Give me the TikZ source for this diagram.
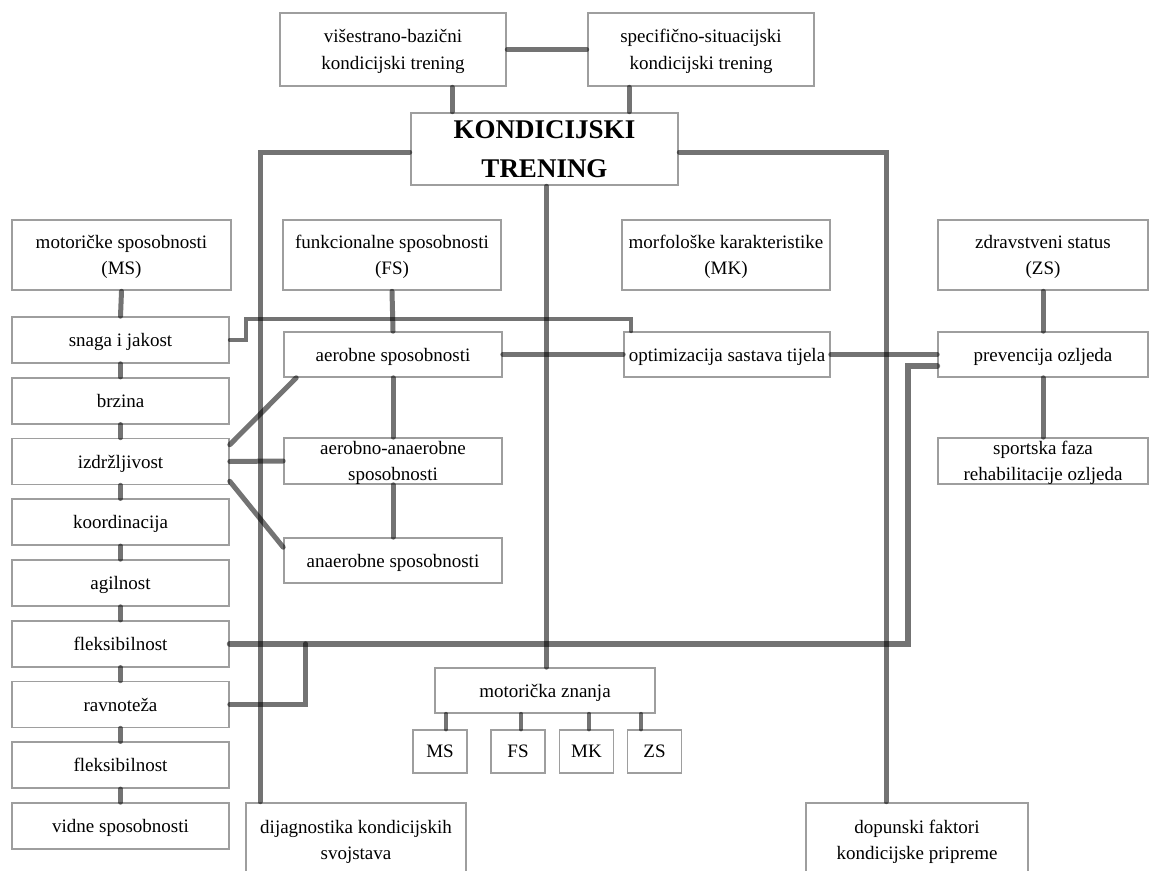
\documentclass[tikz,border=0pt]{standalone}
\usepackage{fontspec}
\setmainfont{Liberation Serif}
\usetikzlibrary{positioning,calc}
\definecolor{edge}{HTML}{9E9E9E}

\begin{document}
\begin{tikzpicture}[x=1pt,y=-1pt,font=\fontsize{19}{26.5}\selectfont,
  b/.style={draw=edge,line width=1.6pt,align=center,inner sep=0pt,text depth=0pt,minimum height=46pt,minimum width=217pt},
  bb/.style={b,line width=2.6pt,minimum height=70pt},
  sm/.style={b,line width=1.2pt,minimum width=54pt,minimum height=43pt},
  l/.style={draw=black,draw opacity=.55,line width=5pt,line cap=round},
  node distance=13.15pt]
  \clip (0,0) rectangle (1151,870);
  \fill[white] (0,0) rectangle (1151,870);
  % top
  \node[bb,minimum width=226pt,minimum height=73pt] (vis) at (393,49.5) {višestrano-bazični\\kondicijski trening};
  \node[bb,minimum width=226pt,minimum height=73pt] (spec) at (701,49.5) {specifično-situacijski\\kondicijski trening};
  \node[bb,minimum width=267pt,minimum height=72pt,font=\fontsize{27}{39}\selectfont\bfseries] (kt) at (544.5,149) {KONDICIJSKI\\TRENING};
  \node[bb,minimum width=219pt] (ms) at (121.5,255) {motoričke sposobnosti\\(MS)};
  \node[bb,minimum width=218pt] (fs) at (392,255) {funkcionalne sposobnosti\\(FS)};
  \node[bb,minimum width=208pt] (mk) at (726,255) {morfološke karakteristike\\(MK)};
  \node[bb,minimum width=210pt] (zs) at (1043,255) {zdravstveni status\\(ZS)};
  % left column
  \node[b] (snaga) at (120.5,340) {snaga i jakost};
  \node[b,below=of snaga] (brz) {brzina};
  \node[b,below=of brz] (izd) {izdržljivost};
  \node[b,below=of izd] (koo) {koordinacija};
  \node[b,below=of koo] (agi) {agilnost};
  \node[b,below=of agi] (flex) {fleksibilnost};
  \node[b,below=of flex] (rav) {ravnoteža};
  \node[b,below=of rav] (flex2) {fleksibilnost};
  \node[b,below=of flex2] (vid) {vidne sposobnosti};
  % middle and right
  \node[b,minimum width=218pt,minimum height=45pt] (aer) at (393,354.5) {aerobne sposobnosti};
  \node[b,minimum width=218pt] (aa) at (393,461) {aerobno-anaerobne\\sposobnosti};
  \node[b,minimum width=218pt,minimum height=45pt] (an) at (393,560.5) {anaerobne sposobnosti};
  \node[b,minimum width=206pt,minimum height=45pt] (opt) at (727,354.5) {optimizacija sastava tijela};
  \node[b,minimum width=210pt,minimum height=45pt] (prev) at (1043,354.5) {prevencija ozljeda};
  \node[b,minimum width=210pt] (sport) at (1043,461) {sportska faza\\rehabilitacije ozljeda};
  \node[b,minimum width=220pt,minimum height=45pt] (mz) at (545,690.5) {motorička znanja};
  \node[sm] (zms) at (440,751.5) {MS};
  \node[sm] (zfs) at (518,751.5) {FS};
  \node[sm] (zmk) at (586.5,751.5) {MK};
  \node[sm] (zzs) at (654.5,751.5) {ZS};
  \node[bb,minimum width=220pt,minimum height=74pt] (dij) at (356,840) {dijagnostika kondicijskih\\svojstava};
  \node[bb,minimum width=222pt,minimum height=74pt] (dop) at (917,840) {dopunski faktori\\kondicijske pripreme};
  % links
  \draw[l] (vis.east) -- (spec.west);
  \draw[l] ([xshift=59pt]vis.south) -- ([xshift=59pt]vis.south |- kt.north);
  \draw[l] ([xshift=-72pt]spec.south) -- ([xshift=-72pt]spec.south |- kt.north);
  \draw[l] ([yshift=-3pt]kt.west) -| ([xshift=-96pt]dij.north);
  \draw[l] ([yshift=-3pt]kt.east) -| ([xshift=-31pt]dop.north);
  \draw[l] ([xshift=2pt]kt.south) -- ([xshift=2pt]kt.south |- mz.north);
  \draw[l] (ms.south) -- (snaga.north);
  \foreach \a/\c in {snaga/brz,brz/izd,izd/koo,koo/agi,agi/flex,flex/rav,rav/flex2,flex2/vid}
    \draw[l] (\a.south) -- (\c.north);
  \draw[l] (fs.south) -- (aer.north);
  \draw[l] (aer.south) -- (aa.north);
  \draw[l] (aa.south) -- (an.north);
  \draw[l] ([yshift=-7pt]izd.north east) -- ([xshift=13pt]aer.south west);
  \draw[l] (izd.east) -- (aa.west);
  \draw[l] ([yshift=4pt]izd.south east) -- ([yshift=-10pt]an.north west);
  \draw[l] (aer.east) -- (opt.west);
  \draw[l] (opt.east) -- (prev.west);
  \draw[l] (zs.south) -- (prev.north);
  \draw[l] (prev.south) -- (sport.north);
  \draw[l,line width=4pt] (snaga.east) -- ++(16pt,0) |- ([xshift=8pt,yshift=12pt]opt.north west) -- ([xshift=8pt]opt.north west);
  \draw[l,line width=6pt] (flex.east) -| ([xshift=-29pt,yshift=-11.5pt]prev.west) -- ([yshift=-11.5pt]prev.west);
  \coordinate (fjoin) at ($(flex.east)+(76pt,0)$);
  \draw[l] (rav.east) -| (fjoin);
  \foreach \n/\d in {zms/6,zfs/3,zmk/2.5,zzs/-13.5}
    \draw[l,line width=4pt] ([xshift=\d pt]\n.north) -- ([xshift=\d pt]\n.north |- mz.south);
\end{tikzpicture}
\end{document}
